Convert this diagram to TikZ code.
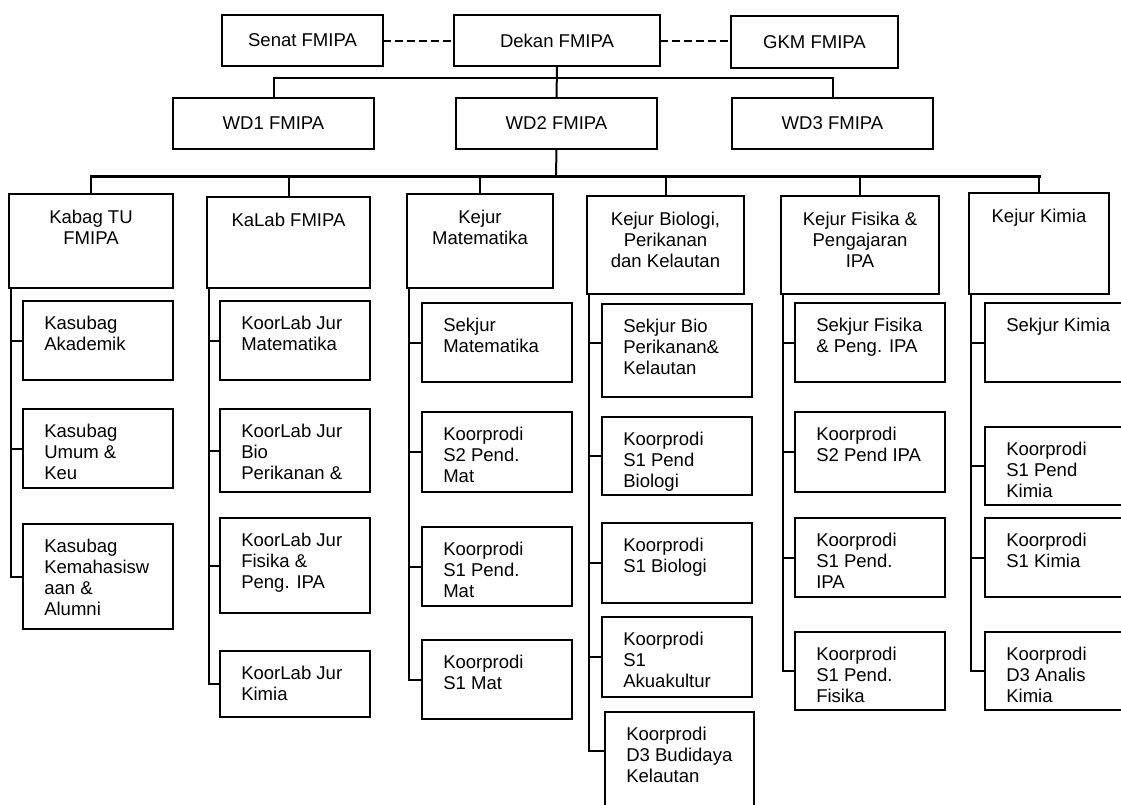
\documentclass[tikz,border=0pt]{standalone}
\usepackage{fontspec}
\setmainfont{Liberation Sans}
\begin{document}
\begin{tikzpicture}[
  x=0.75pt,y=-0.75pt,
  font=\fontsize{13.9}{15.75}\selectfont,
  wh/.style 2 args={minimum width=#1*0.75pt,minimum height=#2*0.75pt},
  box/.style={draw,line width=1.5pt,anchor=north west,inner sep=0pt,outer sep=0pt,align=center},
  htxt/.style={anchor=north,align=center,inner sep=0pt,yshift=-12pt},
  ctxt/.style={anchor=north west,align=left,inner sep=0pt,xshift=15.75pt,yshift=-11.25pt},
  link/.style={line width=1.5pt},
  busline/.style={line width=2.25pt,line cap=rect},
  dashlink/.style={line width=1.5pt,dash pattern=on 6pt off 3pt}
]
\useasboundingbox (0,0) rectangle (1121,804);
\clip (0,0) rectangle (1121,804);

\node[box,wh={161}{51}] (senat) at (222,15) {Senat FMIPA};
\node[box,wh={206}{51}] (dekan) at (454,15) {Dekan FMIPA};
\node[box,wh={167}{52}] (gkm) at (731,16) {GKM FMIPA};
\node[box,wh={201}{51}] (wd1) at (173,98) {WD1 FMIPA};
\node[box,wh={201}{51}] (wd2) at (456,98) {WD2 FMIPA};
\node[box,wh={201}{51}] (wd3) at (732,98) {WD3 FMIPA};

\node[box,wh={164}{94}] (kabag) at (9,194) {};
\node[box,wh={163}{91}] (kalab) at (207,197) {};
\node[box,wh={146}{94}] (kjmat) at (407,194) {};
\node[box,wh={157}{98}] (kjbio) at (587,196) {};
\node[box,wh={158}{98}] (kjfis) at (781,196) {};
\node[box,wh={140}{101}] (kjkim) at (969,193) {};
\node[htxt] (kabag-t) at (kabag.north) {Kabag TU\\FMIPA};
\node[htxt] (kalab-t) at (kalab.north) {KaLab FMIPA};
\node[htxt] (kjmat-t) at (kjmat.north) {Kejur\\Matematika};
\node[htxt] (kjbio-t) at (kjbio.north) {Kejur Biologi,\\Perikanan\\dan Kelautan};
\node[htxt] (kjfis-t) at (kjfis.north) {Kejur Fisika \&\\Pengajaran\\IPA};
\node[htxt] (kjkim-t) at (kjkim.north) {Kejur Kimia};

\node[box,wh={150}{79}] (ksak) at (23,301) {};
\node[box,wh={150}{79}] (ksum) at (23,409) {};
\node[box,wh={150}{105}] (kskm) at (23,524) {};
\node[ctxt] (ksak-t) at (ksak.north west) {Kasubag\\Akademik};
\node[ctxt] (ksum-t) at (ksum.north west) {Kasubag\\Umum \&\\Keu};
\node[ctxt] (kskm-t) at (kskm.north west) {Kasubag\\Kemahasisw\\aan \&\\Alumni};

\node[box,wh={150}{79}] (klmat) at (220,301) {};
\node[box,wh={150}{83}] (klbio) at (220,409) {};
\node[box,wh={150}{95}] (klfis) at (220,518) {};
\node[box,wh={150}{66}] (klkim) at (220,651) {};
\node[ctxt] (klmat-t) at (klmat.north west) {KoorLab Jur\\Matematika};
\node[ctxt] (klbio-t) at (klbio.north west) {KoorLab Jur\\Bio\\Perikanan \&};
\node[ctxt] (klfis-t) at (klfis.north west) {KoorLab Jur\\Fisika \&\\Peng. IPA};
\node[ctxt] (klkim-t) at (klkim.north west) {KoorLab Jur\\Kimia};

\node[box,wh={150}{79}] (skmat) at (422,303) {};
\node[box,wh={150}{80}] (kps2mat) at (422,412) {};
\node[box,wh={150}{79}] (kps1pmat) at (422,527) {};
\node[box,wh={150}{79}] (kps1mat) at (422,640) {};
\node[ctxt] (skmat-t) at (skmat.north west) {Sekjur\\Matematika};
\node[ctxt] (kps2mat-t) at (kps2mat.north west) {Koorprodi\\S2 Pend.\\Mat};
\node[ctxt] (kps1pmat-t) at (kps1pmat.north west) {Koorprodi\\S1 Pend.\\Mat};
\node[ctxt] (kps1mat-t) at (kps1mat.north west) {Koorprodi\\S1 Mat};

\node[box,wh={150}{93}] (skbio) at (602,304) {};
\node[box,wh={150}{78}] (kps1pbio) at (602,417) {};
\node[box,wh={150}{80}] (kps1bio) at (602,523) {};
\node[box,wh={150}{80}] (kpaku) at (602,617) {};
\node[box,wh={149}{120}] (kpd3bud) at (605,712) {};
\node[ctxt] (skbio-t) at (skbio.north west) {Sekjur Bio\\Perikanan\&\\Kelautan};
\node[ctxt] (kps1pbio-t) at (kps1pbio.north west) {Koorprodi\\S1 Pend\\Biologi};
\node[ctxt] (kps1bio-t) at (kps1bio.north west) {Koorprodi\\S1 Biologi};
\node[ctxt] (kpaku-t) at (kpaku.north west) {Koorprodi\\S1\\Akuakultur};
\node[ctxt] (kpd3bud-t) at (kpd3bud.north west) {Koorprodi\\D3 Budidaya\\Kelautan};

\node[box,wh={150}{79}] (skfis) at (795,303) {};
\node[box,wh={150}{80}] (kps2ipa) at (795,412) {};
\node[box,wh={150}{79}] (kps1ipa) at (795,518) {};
\node[box,wh={150}{78}] (kps1fis) at (795,632) {};
\node[ctxt] (skfis-t) at (skfis.north west) {Sekjur Fisika\\\& Peng. IPA};
\node[ctxt] (kps2ipa-t) at (kps2ipa.north west) {Koorprodi\\S2 Pend IPA};
\node[ctxt] (kps1ipa-t) at (kps1ipa.north west) {Koorprodi\\S1 Pend.\\IPA};
\node[ctxt] (kps1fis-t) at (kps1fis.north west) {Koorprodi\\S1 Pend.\\Fisika};

\node[box,wh={150}{79}] (skkim) at (985,303) {};
\node[box,wh={150}{78}] (kps1pkim) at (985,427) {};
\node[box,wh={150}{79}] (kps1kim) at (985,518) {};
\node[box,wh={150}{78}] (kpd3kim) at (985,632) {};
\node[ctxt] (skkim-t) at (skkim.north west) {Sekjur Kimia};
\node[ctxt] (kps1pkim-t) at (kps1pkim.north west) {Koorprodi\\S1 Pend\\Kimia};
\node[ctxt] (kps1kim-t) at (kps1kim.north west) {Koorprodi\\S1 Kimia};
\node[ctxt] (kpd3kim-t) at (kpd3kim.north west) {Koorprodi\\D3 Analis\\Kimia};

\coordinate (bar) at (556,78);
\coordinate (bus) at (556,176);
\coordinate (d3in) at ([yshift=-29.25pt]kpd3bud.north west);
\coordinate (skbioin) at ([yshift=-29.25pt]skbio.north west);

\draw[dashlink] (senat.east) -- (dekan.west);
\draw[dashlink] (dekan.east) -- (gkm.west |- dekan.east);
\draw[link] (dekan.south) -- (wd2.north);
\draw[link] (wd1.north) |- (bar) -| (wd3.north);
\draw[link] (wd2.south) -- (bus);
\draw[busline] (kabag.north |- bus) -- (kjkim.north |- bus);
\foreach \h in {kabag,kalab,kjmat,kjbio,kjfis,kjkim}
  \draw[link] (\h.north |- bus) -- (\h.north);

\foreach \h/\c in {kabag/kskm.west,kalab/klkim.west,kjmat/kps1mat.west,kjbio/d3in,kjfis/kps1fis.west,kjkim/kpd3kim.west}
  \draw[link] ([xshift=1.5pt]\h.south west) coordinate (\h-r) |- (\c);
\foreach \h/\c in {kabag/ksak,kabag/ksum,kalab/klmat,kalab/klbio,kalab/klfis,
  kjmat/skmat,kjmat/kps2mat,kjmat/kps1pmat,kjbio/kps1pbio,kjbio/kps1bio,kjbio/kpaku,
  kjfis/skfis,kjfis/kps2ipa,kjfis/kps1ipa,kjkim/skkim,kjkim/kps1pkim,kjkim/kps1kim}
  \draw[link] (\h-r |- \c.west) -- (\c.west);
\draw[link] (kjbio-r |- skbioin) -- (skbioin);
\end{tikzpicture}
\end{document}
